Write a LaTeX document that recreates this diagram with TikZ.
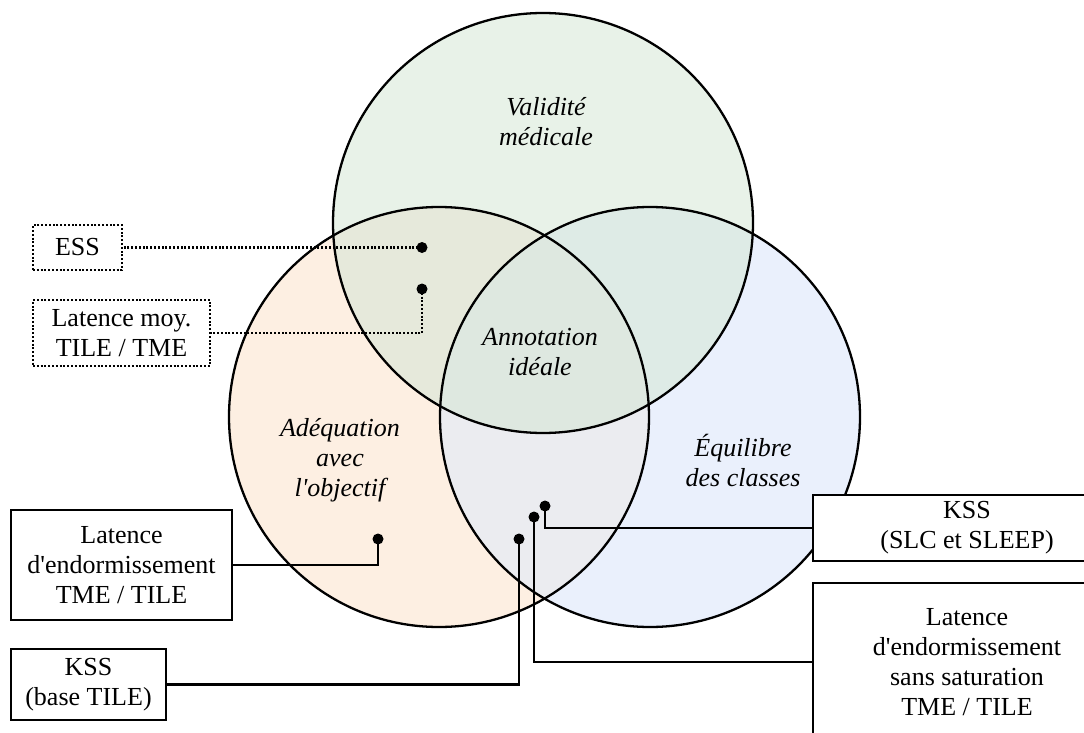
\documentclass[tikz,border=0pt]{standalone}
\usepackage{fontspec}
\setmainfont{Liberation Serif}
\definecolor{topc}{HTML}{E8F2E8}
\definecolor{leftc}{HTML}{FDEFE2}
\definecolor{rightc}{HTML}{EAF0FC}
\definecolor{tlc}{HTML}{E6E9DB}
\definecolor{trc}{HTML}{DEEBE6}
\definecolor{lrc}{HTML}{EBECF0}
\definecolor{allc}{HTML}{DEE8E0}
\newcommand{\apos}{\textquotesingle}
\begin{document}
\begin{tikzpicture}[x=1pt,y=-1pt,
  lab/.style={font=\fontsize{26}{30}\selectfont\itshape, align=center, inner sep=0pt},
  box/.style={draw=black, line width=2.3pt, fill=white, font=\fontsize{26}{30}\selectfont, align=center, inner sep=0pt},
  dbox/.style={box, line width=2.2pt, dash pattern=on 2pt off 1.8pt},
  conn/.style={line width=2.3pt},
  dconn/.style={line width=2.2pt, dash pattern=on 2pt off 1.8pt},
  dot/.style={circle, fill=black, minimum size=11pt, inner sep=0pt},
  ring/.style={draw=black, line width=2.3pt}]
\useasboundingbox (0,0) rectangle (1084,733);
\clip (0,0) rectangle (1084,733);
\coordinate (cT) at (543,223);
\coordinate (cL) at (439,417);
\coordinate (cR) at (650,417);
% fills
\fill[topc] (cT) circle[radius=210pt];
\fill[leftc] (cL) circle[radius=210pt];
\fill[rightc] (cR) circle[radius=210pt];
\begin{scope}\clip (cT) circle[radius=210pt]; \fill[tlc] (cL) circle[radius=210pt];\end{scope}
\begin{scope}\clip (cT) circle[radius=210pt]; \fill[trc] (cR) circle[radius=210pt];\end{scope}
\begin{scope}\clip (cL) circle[radius=210pt]; \fill[lrc] (cR) circle[radius=210pt];\end{scope}
\begin{scope}\clip (cT) circle[radius=210pt]; \clip (cL) circle[radius=210pt]; \fill[allc] (cR) circle[radius=210pt];\end{scope}
% outlines
\draw[ring] (cT) circle[radius=210pt];
\draw[ring] (cL) circle[radius=210pt];
\draw[ring] (cR) circle[radius=210pt];
% circle labels
\node[lab] (tlab) at (546,122) {Validité\\médicale};
\node[lab] (clab) at (540,352) {Annotation\\idéale};
\node[lab] (llab) at (340,460) {Adéquation\\avec\\l\apos objectif};
\node[lab] (rlab) at (743,460) {Équilibre\\des classes};
% boxes
\node[dbox, minimum width=89pt, minimum height=45pt] (ess) at (77.5,247.5) {ESS};
\node[dbox, minimum width=177pt, minimum height=66pt] (latmoy) at (121.5,333) {Latence moy.\\TILE / TME};
\node[box, minimum width=221pt, minimum height=110pt] (latend) at (121.5,565) {Latence\\d\apos endormissement\\TME / TILE};
\node[box, minimum width=155pt, minimum height=71pt] (kssbase) at (88.5,684.5) {KSS\\(base TILE)};
\node[box, minimum width=308pt, minimum height=66pt] (kssslc) at (967,528) {KSS\\(SLC et SLEEP)};
\node[box, minimum width=308pt, minimum height=158pt] (latsans) at (967,662) {Latence\\d\apos endormissement\\sans saturation\\TME / TILE};
% dot positions
\coordinate (pess) at (422,247.5);
\coordinate (plm) at (422,289);
\coordinate (ple) at (378,539);
\coordinate (pkb) at (519,539);
\coordinate (pks) at (545,506);
\coordinate (pls) at (534,517);
% connectors
\draw[dconn] (pess) -- (ess.east);
\draw[dconn] (plm) |- (latmoy.east);
\draw[conn] (ple) |- (latend.east);
\draw[conn] (pkb) |- (kssbase.east);
\draw[conn] (pks) |- (kssslc.west);
\draw[conn] (pls) |- (latsans.west);
\node[dot] (dess) at (pess) {};
\node[dot] (dlm) at (plm) {};
\node[dot] (dle) at (ple) {};
\node[dot] (dkb) at (pkb) {};
\node[dot] (dks) at (pks) {};
\node[dot] (dls) at (pls) {};
\end{tikzpicture}
\end{document}
